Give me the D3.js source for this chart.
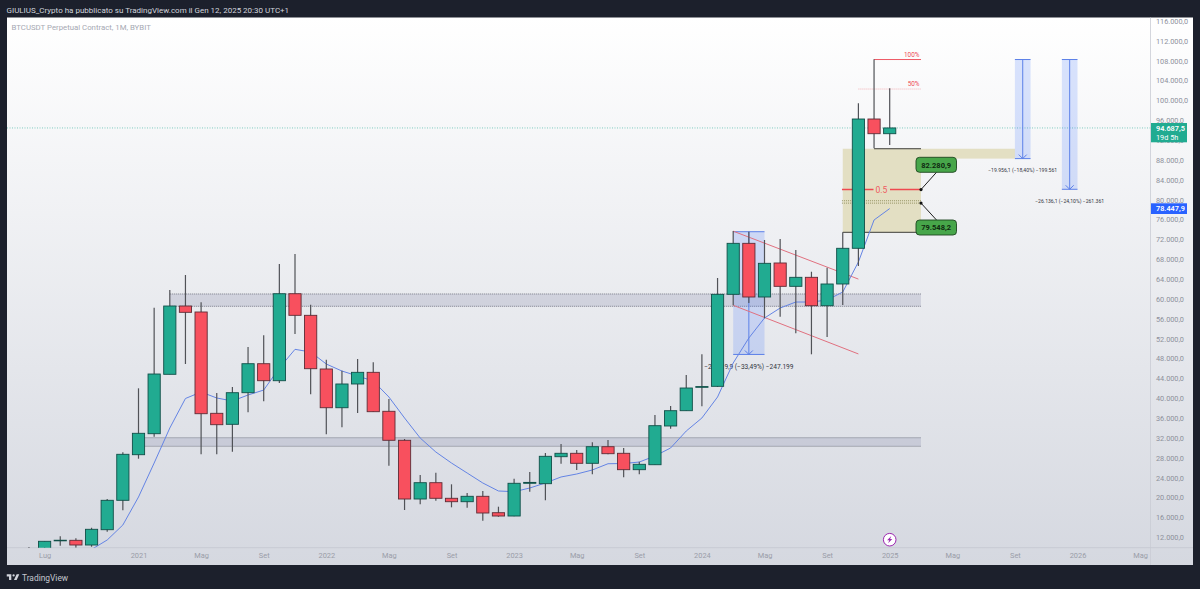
<!DOCTYPE html>
<html><head><meta charset="utf-8">
<script src="https://cdn.jsdelivr.net/npm/d3@7"></script>
<style>html,body{margin:0;padding:0;background:#1c202c;overflow:hidden}svg{display:block}text{font-family:Roboto,"Noto Sans",sans-serif}</style>
</head><body><svg id="c" width="1200" height="589"></svg>
<script>
// Month index 0 = Giu 2020
const opens  = [9500,9140,11557,11637,10690,13772,19693,28877,33107,45070,58825,57620,37215,35000,41365,47205,43780,61300,56950,46140,38340,43120,45470,37620,31780,19955,23240,20100,19410,20500,17195,16530,23120,23040,28475,29160,27145,30490,29160,25860,26860,34660,37740,42450,42650,61180,71450,60640,67490,62790,64605,58885,63260,70450,96490,93530];
const closes = [9140,11436,11650,10690,13853,19693,28958,33187,45130,58825,57555,37135,34920,41365,47205,43780,61300,56950,46200,38340,43120,45470,37540,31780,19955,23240,20100,19410,20500,17135,16530,23120,23300,28555,29160,27145,30490,29080,25860,26945,34720,37740,42310,42600,61180,71450,60640,67425,62790,64605,58885,63260,70450,96490,93530,94687.5];
const highs  = [10288,11436,12443,12040,14175,19955,29360,42250,58480,62050,65070,59570,41300,42510,50570,52925,67280,69300,59090,48010,45800,48150,47490,40100,32040,24790,25250,22915,21160,21565,18405,24040,25390,29220,31030,29825,31375,31840,30225,27470,36870,38685,44930,49100,64465,73930,73790,72120,72320,70100,65730,66540,73670,99650,108510,102670];
const lows   = [8800,8900,10550,10147,10350,13370,17680,28070,32500,45070,47140,28960,28960,29480,37415,39630,43320,53190,41040,32990,34400,37280,37480,26660,17740,18890,19610,18280,18200,15585,16390,16490,21425,19690,27065,25800,24930,28960,24325,24930,26860,34110,37680,38625,42510,58970,59430,56350,56670,53330,49100,52580,59030,66880,90590,91250];
// EMA line, starts at month index 4 (Ott 2020)
const emaStart = 4;
const ema = [9800,11700,14720,20360,27200,34250,40200,41500,40300,39700,40900,41900,46340,50100,49560,47140,45730,44730,43720,40500,36270,32240,29420,27200,25190,23180,21570,21425,22170,23180,24390,24990,25800,27060,27100,27400,28620,30230,33650,36270,40500,47350,52380,56410,58420,59630,59630,60030,61640,67690,76150,78447.9];
const priceTicks = [12000,16000,20000,24000,28000,32000,36000,40000,44000,48000,52000,56000,60000,64000,68000,72000,76000,80000,84000,88000,92000,96000,100000,104000,108000,112000,116000];
const timeTickIdx = [1,7,11,15,19,23,27,31,35,39,43,47,51,55,59,63,67,71];
const timeTickLab = ["Lug","2021","Mag","Set","2022","Mag","Set","2023","Mag","Set","2024","Mag","Set","2025","Mag","Set","2026","Mag"];
const lastPrice = 94687.5, emaLast = 78447.9;
const zones = [{i0:9,i1:57,hi:61250,lo:58770},{i0:7,i1:57,hi:32300,lo:30570}];
const fibTop = 108470, fib50 = 102530, fibBase = 90500, boxLow = 73670, extLow = 88514;
const mid = 82280.9, low2 = 79548.2, olive = 80030;
const measures = [
 {i0:63,i1:64,hi:108470,lo:88514,label:"−19.956,1 (−18,40%) −199.561",fs:5.1},
 {i0:66,i1:67,hi:108470,lo:82334,label:"−26.136,1 (−24,10%) −261.361",fs:5.1},
 {i0:45,i1:47,hi:73790,lo:49070,label:"−24.719,9 (−33,49%) −247.199",fs:6.6}];
const channel = [{i0:45,p0:73900,i1:53,p1:64250},{i0:45,p0:58970,i1:53,p1:49170}];

const svg = d3.select("#c");
const W=1200,H=589, pL=7,pT=17.5,pR=1193,pB=565, plotR=1150.5, plotB=547.7;
const x = d3.scaleLinear().domain([1,71]).range([44.6,1140.1]);
const y = d3.scaleLinear().domain([12000,116000]).range([538.5,22.14]);
const bw = (x(1)-x(0))*0.78;
const locale = d3.formatLocale({decimal:",",thousands:".",grouping:[3],currency:["","€"]});
const fmt = locale.format(",.1f");

const defs = svg.append("defs");
const g = defs.append("linearGradient").attr("id","bg").attr("x1",0).attr("y1",0).attr("x2",0).attr("y2",1);
g.append("stop").attr("offset",0).attr("stop-color","#ffffff");
g.append("stop").attr("offset",1).attr("stop-color","#d5d8e0");
defs.append("clipPath").attr("id","plot").append("rect").attr("x",pL).attr("y",pT).attr("width",plotR-pL).attr("height",plotB-pT);

svg.append("rect").attr("width",W).attr("height",H).attr("fill","#1c202c");
svg.append("rect").attr("x",pL).attr("y",pT).attr("width",pR-pL).attr("height",pB-pT).attr("fill","url(#bg)");
svg.append("line").attr("x1",plotR).attr("x2",plotR).attr("y1",pT).attr("y2",pB).attr("stroke","#c9ccd4").attr("stroke-width",.8);
svg.append("line").attr("x1",pL).attr("x2",pR).attr("y1",plotB).attr("y2",plotB).attr("stroke","#c4c7d0").attr("stroke-width",.8);

svg.append("text").attr("x",6.5).attr("y",13).attr("fill","#d1d4dc").attr("font-size",8).attr("font-family","Roboto").text("GIULIUS_Crypto ha pubblicato su TradingView.com il Gen 12, 2025 20:30 UTC+1");
svg.append("text").attr("x",11.5).attr("y",30).attr("fill","#a6a9b3").attr("font-size",7.8).text("BTCUSDT Perpetual Contract, 1M, BYBIT");

const p = svg.append("g").attr("clip-path","url(#plot)");

// price line
p.append("line").attr("x1",pL).attr("x2",plotR).attr("y1",y(lastPrice)).attr("y2",y(lastPrice)).attr("stroke","#22ab94").attr("stroke-opacity",.7).attr("stroke-width",.8).attr("stroke-dasharray","1 1.5");

// zones
zones.forEach(z=>{
  p.append("rect").attr("x",x(z.i0)).attr("width",x(z.i1)-x(z.i0)).attr("y",y(z.hi)).attr("height",y(z.lo)-y(z.hi)).attr("fill","#9a9fb8").attr("fill-opacity",.32);
  [z.hi,z.lo].forEach(v=>p.append("line").attr("x1",x(z.i0)).attr("x2",x(z.i1)).attr("y1",y(v)).attr("y2",y(v)).attr("stroke","#5e6270").attr("stroke-width",.8).attr("stroke-dasharray","1 1"));
});

// beige fib box
const beige="#e3dfc3";
p.append("rect").attr("x",x(52)).attr("width",x(57)-x(52)).attr("y",y(fibBase)).attr("height",y(boxLow)-y(fibBase)).attr("fill",beige);
p.append("rect").attr("x",x(57)).attr("width",x(63)-x(57)).attr("y",y(fibBase)).attr("height",y(extLow)-y(fibBase)).attr("fill",beige);

// measures
measures.forEach(m=>{
  const cx=(x(m.i0)+x(m.i1))/2;
  p.append("rect").attr("x",x(m.i0)).attr("width",x(m.i1)-x(m.i0)).attr("y",y(m.hi)).attr("height",y(m.lo)-y(m.hi)).attr("fill","#2962ff").attr("fill-opacity",.17);
  [m.hi,m.lo].forEach(v=>p.append("line").attr("x1",x(m.i0)).attr("x2",x(m.i1)).attr("y1",y(v)).attr("y2",y(v)).attr("stroke","#5c80e8").attr("stroke-width",1));
  p.append("line").attr("x1",cx).attr("x2",cx).attr("y1",y(m.hi)).attr("y2",y(m.lo)).attr("stroke","#5c80e8").attr("stroke-width",1);
  p.append("path").attr("d",`M${cx-4},${y(m.lo)-4}L${cx},${y(m.lo)}L${cx+4},${y(m.lo)-4}`).attr("fill","none").attr("stroke","#5c80e8").attr("stroke-width",1);
  p.append("text").attr("x",cx).attr("y",y(m.lo)+(m.fs>6?15:13.5)).attr("text-anchor","middle").attr("font-size",m.fs).attr("fill","#33363f").text(m.label);
});

// channel lines
channel.forEach(c=>p.append("line").attr("x1",x(c.i0)).attr("y1",y(c.p0)).attr("x2",x(c.i1)).attr("y2",y(c.p1)).attr("stroke","#e0707f").attr("stroke-width",1));

// fib lines
const ln=(i0,i1,v,col,w,dash)=>{const s=p.append("line").attr("x1",x(i0)).attr("x2",x(i1)).attr("y1",y(v)).attr("y2",y(v)).attr("stroke",col).attr("stroke-width",w); if(dash)s.attr("stroke-dasharray",dash);return s;};
ln(53,57,fib50,"#f2b0b6",1,"1 1");
ln(51.95,57,mid,"#ef4a4f",1.4);
ln(51.95,57,olive,"#8d8a58",.9,"1 1");
ln(51.95,57,low2,"#8d8a58",.9,"1 1");
p.append("rect").attr("x",873.5).attr("width",16.5).attr("y",y(mid)-4).attr("height",8).attr("fill",beige);
p.append("text").attr("x",881.3).attr("y",y(mid)+3).attr("text-anchor","middle").attr("font-size",8.5).attr("fill","#ef5a5f").text("0.5");
ln(54,57,fibTop,"#ee5a66",1);
ln(54,57,fibBase,"#3d3d38",1);
ln(52,57,boxLow,"#3d3d38",1);

// EMA
const line = d3.line().x((d,i)=>x(i+emaStart)).y(d=>y(d));
p.append("path").datum(ema).attr("d",line).attr("fill","none").attr("stroke","#6484e4").attr("stroke-width",1);

// candles
const cs = opens.map((o,i)=>({i,o,c:closes[i],h:highs[i],l:lows[i]}));
const cg = p.selectAll("g.k").data(cs).join("g").attr("class","k");
cg.append("line").attr("x1",d=>x(d.i)).attr("x2",d=>x(d.i)).attr("y1",d=>y(d.h)).attr("y2",d=>y(d.l)).attr("stroke","#505257").attr("stroke-width",1.2);
cg.append("rect").attr("x",d=>x(d.i)-bw/2).attr("width",bw)
  .attr("y",d=>y(Math.max(d.o,d.c))).attr("height",d=>Math.max(.6,Math.abs(y(d.o)-y(d.c))))
  .attr("fill",d=>d.c>=d.o?"#21ab91":"#f8505e")
  .attr("stroke",d=>d.c>=d.o?"#114f48":"#5e2c36").attr("stroke-width",.9);
// EMA tail stays visible over the beige box and above candles where the reference shows it
p.append("text").attr("x",919.5).attr("y",y(fibTop)-3).attr("text-anchor","end").attr("font-size",6.4).attr("fill","#ee4a56").attr("font-family","Noto Sans").text("100%");
p.append("text").attr("x",919.5).attr("y",y(fib50)-3).attr("text-anchor","end").attr("font-size",6.4).attr("fill","#ee4a56").attr("font-family","Noto Sans").text("50%");

// green badges
[{v:mid,by:157.3,cy:172.3},{v:low2,by:220,cy:220}].forEach(b=>{
  svg.append("line").attr("x1",x(57)).attr("y1",y(b.v)).attr("x2",936.5).attr("y2",b.cy).attr("stroke","#1f1f1f").attr("stroke-width",1);
  svg.append("circle").attr("cx",x(57)).attr("cy",y(b.v)).attr("r",1.6).attr("fill","#111");
  svg.append("rect").attr("x",916).attr("y",b.by).attr("width",40.5).attr("height",15).attr("rx",3.5).attr("fill","#47a64a").attr("stroke","#1e4620").attr("stroke-width",.9);
  svg.append("text").attr("x",936.2).attr("y",b.by+10.3).attr("text-anchor","middle").attr("font-size",7.5).attr("font-weight",700).attr("fill","#0f2a10").text(fmt(b.v));
});

// axes
const ya = svg.append("g").attr("transform",`translate(${plotR},-1.2)`).call(d3.axisRight(y).tickValues(priceTicks).tickSize(0).tickPadding(5.5).tickFormat(fmt));
ya.select(".domain").remove();
ya.selectAll("text").attr("font-size",7.3).attr("fill","#8d909b").style("font-family","Roboto");
const xa = svg.append("g").attr("transform",`translate(0,${plotB})`).call(d3.axisBottom(x).tickValues(timeTickIdx).tickSize(0).tickPadding(5.5).tickFormat((d,i)=>timeTickLab[i]));
xa.select(".domain").remove();
xa.selectAll("text").attr("font-size",7.4).attr("fill","#9a9da8").style("font-family","Roboto");

// price tags
svg.append("rect").attr("x",1151).attr("y",123).attr("width",36).attr("height",19.3).attr("fill","#21ab91");
svg.append("text").attr("x",1156).attr("y",131).attr("font-size",7.3).attr("font-weight",600).attr("fill","#fff").text(fmt(lastPrice));
svg.append("text").attr("x",1156).attr("y",139.5).attr("font-size",7.3).attr("fill","#fff").text("19d 5h");
svg.append("rect").attr("x",1151).attr("y",203.3).attr("width",36).attr("height",10.7).attr("fill","#2962ff");
svg.append("text").attr("x",1156).attr("y",211.4).attr("font-size",7.3).attr("font-weight",600).attr("fill","#fff").text(fmt(emaLast));

// bolt icon
const ic = svg.append("g").attr("transform",`translate(${x(55)},539.7)`);
ic.append("circle").attr("r",6.3).attr("fill","#fff").attr("stroke","#9c27b0").attr("stroke-width",1);
ic.append("path").attr("d","M1.6,-3.6L-2.6,0.6L-0.4,0.6L-1.6,3.6L2.6,-0.6L0.4,-0.6Z").attr("fill","#9c27b0");

// footer logo
const lg = svg.append("g").attr("transform","translate(6,572)").attr("fill","#d1d4dc");
lg.append("path").attr("d","M14 6H2v6h6v9h6V6zm14 15h-7l7-15h7l-7 15z").attr("transform","scale(.38)");
lg.append("circle").attr("cx",20*.38).attr("cy",9*.38).attr("r",3*.38);
svg.append("text").attr("x",22).attr("y",580.5).attr("font-size",8.4).attr("fill","#c4c7cf").text("TradingView");
</script></body></html>
